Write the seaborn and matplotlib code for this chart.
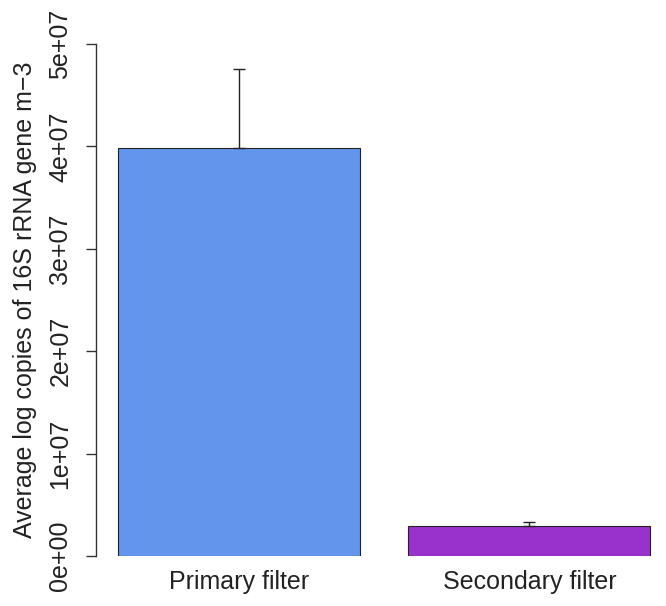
import numpy as np
import pandas as pd
import seaborn as sns
import matplotlib.pyplot as plt

# ----------------------------------------------------------------------
# Data
# ----------------------------------------------------------------------
filters = ["Primary filter", "Secondary filter"]
mean_copies = [3.98e7, 2.93e6]
se_copies = [7.8e6, 3.9e5]
bar_colors = ["#6495ED", "#9932CC"]
y_ticks = [0, 1e7, 2e7, 3e7, 4e7, 5e7]
y_tick_labels = ["0e+00", "1e+07", "2e+07", "3e+07", "4e+07", "5e+07"]

df = pd.DataFrame({"Filter": filters, "Copies": mean_copies})

sns.set_style("white")
plt.rcParams["font.family"] = ["Liberation Sans", "DejaVu Sans"]

W, H = 666, 606
fig = plt.figure(figsize=(W / 100, H / 100), dpi=100)
# axes placed in pixel terms: left edge at axis line, 0 at y=556, 5e7 at y=44
ax = fig.add_axes([96 / W, 50 / H, (W - 96) / W, 512 / H])

sns.barplot(data=df, x="Filter", y="Copies", hue="Filter", palette=bar_colors,
            saturation=1, width=1 / 1.2, edgecolor="#222222", linewidth=0.8,
            errorbar=None, legend=False, ax=ax)

# upper-only error bars with small caps
ax.errorbar(x=np.arange(len(filters)), y=mean_copies,
            yerr=[np.zeros(len(se_copies)), se_copies],
            fmt="none", ecolor="#222222", elinewidth=1.0, capsize=4.5,
            capthick=1.0, clip_on=False, zorder=5)

ax.set_xlim(-143 / 290.4, (W - 239) / 290.4)
ax.set_ylim(0, 5e7)

for side in ["top", "right", "bottom"]:
    ax.spines[side].set_visible(False)
ax.spines["left"].set_bounds(0, 5e7)
ax.spines["left"].set_color("#333333")
ax.spines["left"].set_linewidth(1.0)

ax.set_yticks(y_ticks)
ax.set_yticklabels(y_tick_labels, rotation=90, va="center", fontsize=18)
ax.tick_params(axis="y", length=7, width=1.0, color="#333333", pad=10,
               labelcolor="#222222", left=True)
ax.tick_params(axis="x", length=0, pad=10, labelsize=18, labelcolor="#222222")

ax.set_xlabel("")
ax.set_ylabel("Average log copies of 16S rRNA gene m\u22123", fontsize=18,
              color="#222222", labelpad=8)

fig.savefig("out.png", dpi=100)
